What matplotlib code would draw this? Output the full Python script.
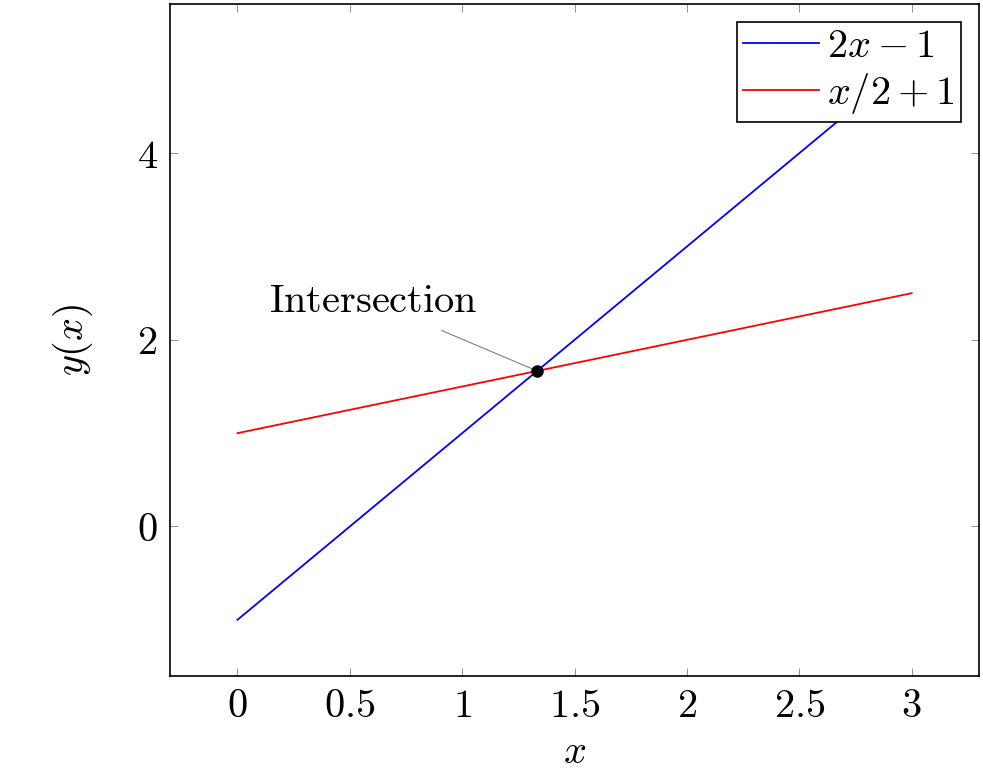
import matplotlib
matplotlib.use("Agg")
import matplotlib.pyplot as plt

plt.rcParams['mathtext.fontset'] = 'cm'
plt.rcParams['font.family'] = ['DejaVu Serif']

x_vals = [0, 3]
blue_y = [-1, 5]
red_y = [1, 2.5]
intersect = (4/3, 5/3)
xticks = [0, 0.5, 1, 1.5, 2, 2.5, 3]
xtick_labels = ['$0$', '$0.5$', '$1$', '$1.5$', '$2$', '$2.5$', '$3$']
yticks = [0, 2, 4]
ytick_labels = ['$0$', '$2$', '$4$']

fig = plt.figure(figsize=(9.83, 7.75), dpi=100)
ax = fig.add_axes([0.173, 0.128, 0.823, 0.867])
ax.plot(x_vals, blue_y, color='blue', lw=1.3, label='$2x-1$')
ax.plot(x_vals, red_y, color='red', lw=1.3, label='$x/2+1$')
ax.plot([intersect[0]], [intersect[1]], 'o', color='black', ms=8, zorder=5)
ax.annotate('$\\mathrm{Intersection}$', xy=intersect, xytext=(0.605, 2.41),
            ha='center', va='center', fontsize=29,
            arrowprops=dict(arrowstyle='-', color='gray', lw=0.8, shrinkA=14, shrinkB=4))
ax.set_xlim(-0.3, 3.3)
ax.set_ylim(-1.6, 5.6)
ax.set_xticks(xticks)
ax.set_xticklabels(xtick_labels, fontsize=29)
ax.set_yticks(yticks)
ax.set_yticklabels(ytick_labels, fontsize=29)
ax.tick_params(direction='in', top=True, right=True, length=6, color='gray', width=0.6, pad=9)
for s in ax.spines.values():
    s.set_linewidth(1.2)
ax.set_xlabel('$x$', fontsize=29, labelpad=6)
ax.set_ylabel('$y(x)$', fontsize=29, labelpad=30)
leg = ax.legend(loc='upper right', fontsize=29, fancybox=False, edgecolor='black',
                framealpha=1, borderpad=0.15, handlelength=1.9, handletextpad=0.2,
                labelspacing=0.15, borderaxespad=0.45)
leg.get_frame().set_linewidth(1.2)
fig.savefig('out.png', dpi=100)
